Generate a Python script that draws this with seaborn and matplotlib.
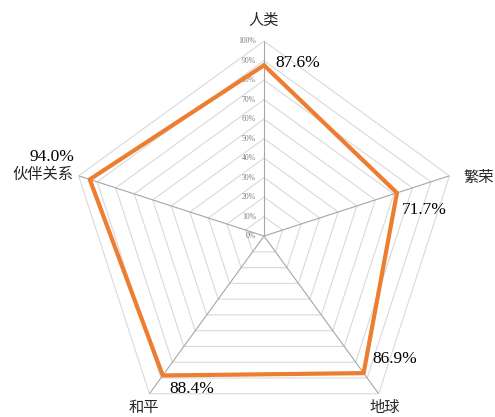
import numpy as np
import pandas as pd
import matplotlib
matplotlib.use("Agg")
import matplotlib.pyplot as plt
import seaborn as sns

# Dimension names and scores (percent)
categories = ["人类", "繁荣", "地球", "和平", "伙伴关系"]
scores = [87.6, 71.7, 86.9, 88.4, 94.0]
tick_values = [0, 10, 20, 30, 40, 50, 60, 70, 80, 90, 100]
tick_labels = [f"{v}%" for v in tick_values]

sns.set_theme(style="white")
plt.rcParams["font.family"] = ["Noto Sans CJK SC", "DejaVu Sans"]

n = len(categories)
angles = np.arange(n) * 2 * np.pi / n
closed_angles = np.append(angles, 2 * np.pi)

df = pd.DataFrame({
    "theta": closed_angles,
    "score": scores + scores[:1],
})

fig = plt.figure(figsize=(4.95, 4.17), dpi=100)
ax = fig.add_axes([0.1394, -0.0336, 0.788, 0.935], projection="polar")
ax.set_theta_offset(np.pi / 2)
ax.set_theta_direction(-1)
ax.set_ylim(0, 100)
ax.grid(False)
ax.spines["polar"].set_visible(False)
ax.set_xticks([])
ax.set_yticks([])
ax.set_facecolor("none")

# polygonal grid rings
for v in tick_values[1:]:
    ax.plot(closed_angles, [v] * (n + 1), color="#d9d9d9", lw=0.8, zorder=1)
# spokes
for a in angles:
    ax.plot([a, a], [0, 100], color="#a6a6a6", lw=0.8, zorder=2)

# radial tick labels along the top spoke
for v, lab in zip(tick_values, tick_labels):
    ax.annotate(lab, (0, v), xytext=(-8, 0), textcoords="offset pixels",
                ha="right", va="center", fontsize=5.6, color="#7f7f7f",
                family="Liberation Serif")

# data polygon
sns.lineplot(data=df, x="theta", y="score", sort=False, ax=ax,
             color="#ed7d31", lw=3, zorder=5)
ax.set_xlabel("")
ax.set_ylabel("")

# category labels at the outer vertices
cat_offsets = [(0, 21, "center"), (14, -2, "left"), (6, -14, "center"),
               (-6, -14, "center"), (-5, 1, "right")]
for a, name, (dx, dy, ha) in zip(angles, categories, cat_offsets):
    ax.annotate(name, (a, 100), xytext=(dx, dy), textcoords="offset pixels",
                ha=ha, va="center", fontsize=11, color="#262626")

# value labels next to each point
val_offsets = [(11, 2, "left"), (5, -17, "left"), (9, 14, "left"),
               (7, -14, "left"), (-15, 22, "right")]
for a, v, (dx, dy, ha) in zip(angles, scores, val_offsets):
    ax.annotate(f"{v:.1f}%", (a, v), xytext=(dx, dy), textcoords="offset pixels",
                ha=ha, va="center", fontsize=12.5, color="#000000",
                family="Liberation Serif")

fig.savefig("out.png", dpi=100, facecolor="white")
